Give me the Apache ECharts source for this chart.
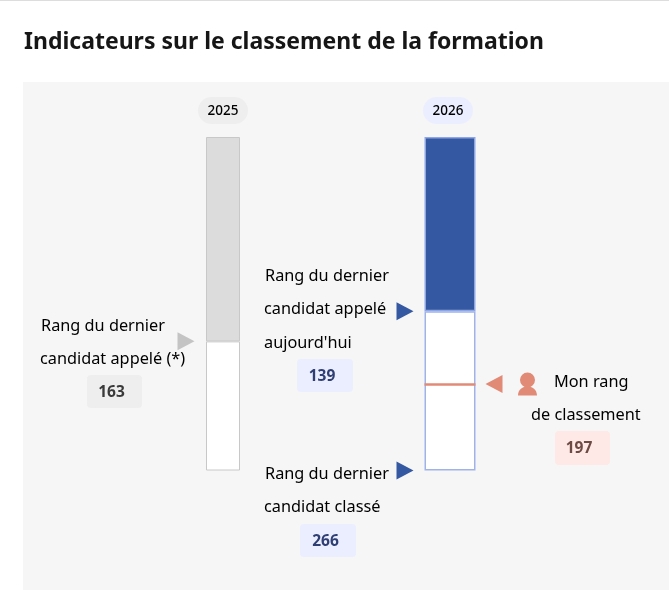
<!DOCTYPE html>
<html><head><meta charset="utf-8">
<style>html,body{margin:0;padding:0;background:#fff}#c{width:669px;height:592px}</style>
<script src="https://cdn.jsdelivr.net/npm/echarts@6/dist/echarts.min.js"></script>
</head><body><div id="c"></div>
<script>
const titleText = "Indicateurs sur le classement de la formation";
const years = ["2025", "2026"];
const maxRank = 266;
const lastCalled2025 = 163;
const lastCalledToday = 139;
const lastRanked = 266;
const myRank = 197;
const FONT = "'Noto Sans'";
const INK = "#000";

function tri(xi, yi, rank, offset, color, rotate) {
  return {type:'scatter',xAxisIndex:xi,yAxisIndex:yi,data:[[0,rank]],symbol:'triangle',symbolSize:[18,17],
    symbolRotate:rotate,symbolOffset:[offset,0],itemStyle:{color:color,opacity:1},silent:true,z:5,clip:false};
}
function txt(s,x,y,o){return Object.assign({type:'text',x:x,y:y,z:10,style:Object.assign({text:s,font:"400 16.3px "+FONT,fill:INK,textAlign:'left',textVerticalAlign:'middle'},o||{})});}
function pill(x,y,w,h,r,fill,label,color,font,shift){
  return [{type:'rect',x:x,y:y,z:8,shape:{width:w,height:h,r:r},style:{fill:fill}},
    {type:'text',x:x+w/2+(shift||0),y:y+h/2+1,z:9,style:{text:label,font:font,fill:color,textAlign:'center',textVerticalAlign:'middle'}}];
}
const YEARF = "500 13.5px "+FONT, VALF = "700 15.5px "+FONT;

const option = {
  animation:false,
  grid:[{left:206,width:34,top:137,height:333.5},{left:424.5,width:51,top:137,height:333.5}],
  xAxis:[{type:'category',gridIndex:0,data:[years[0]],show:false},{type:'category',gridIndex:1,data:[years[1]],show:false}],
  yAxis:[{type:'value',gridIndex:0,min:0,max:maxRank,inverse:true,show:false},{type:'value',gridIndex:1,min:0,max:maxRank,inverse:true,show:false}],
  series:[
    {type:'bar',xAxisIndex:0,yAxisIndex:0,stack:'a',barWidth:'100%',data:[lastCalled2025],itemStyle:{color:'#dcdcdc',borderColor:'#c8c8c8',borderWidth:1},silent:true},
    {type:'bar',xAxisIndex:0,yAxisIndex:0,stack:'a',barWidth:'100%',data:[maxRank-lastCalled2025],itemStyle:{color:'#fff',borderColor:'#c8c8c8',borderWidth:1},silent:true},
    {type:'bar',xAxisIndex:1,yAxisIndex:1,stack:'b',barWidth:'100%',data:[lastCalledToday],itemStyle:{color:'#3558a2',borderColor:'#8ea6e6',borderWidth:1.5},silent:true},
    {type:'bar',xAxisIndex:1,yAxisIndex:1,stack:'b',barWidth:'100%',data:[lastRanked-lastCalledToday],itemStyle:{color:'#fff',borderColor:'#9fb3ea',borderWidth:1.5},silent:true,
      markLine:{silent:true,symbol:'none',label:{show:false},lineStyle:{color:'#e18a76',width:2.5,type:'solid',opacity:1},data:[{yAxis:myRank}]}},
    tri(0,0,lastCalled2025,-37,'#c4c4c4',-90),
    tri(1,1,lastCalledToday,-45,'#3558a2',-90),
    tri(1,1,lastRanked,-45,'#3558a2',-90),
    tri(1,1,myRank,44,'#e18a76',90),
    {type:'scatter',xAxisIndex:1,yAxisIndex:1,data:[[0,myRank]],silent:true,z:6,clip:false,
     symbol:'path://M9.5 0a7.5 7.5 0 1 1 0 15a7.5 7.5 0 1 1 0-15Z M0 23C0 11 19 11 19 23Z',symbolSize:[19,23],symbolOffset:[77.5,0],symbolKeepAspect:false,itemStyle:{color:'#e18a76',opacity:1}}
  ],
  graphic:[
    {type:'rect',x:0,y:0,z:-2,shape:{width:669,height:1},style:{fill:'#dddddd'}},
    {type:'rect',x:23,y:82,z:-2,shape:{width:646,height:508},style:{fill:'#f6f6f6'}},
    txt(titleText,24,42,{font:"700 23px "+FONT,fill:'#161616'}),
    ...pill(198,97,50,27,13.5,'#eeeeee',years[0],INK,YEARF),
    ...pill(423,97,50,27,13.5,'#ebeeff',years[1],INK,YEARF),
    txt("Rang du dernier",41,326),
    txt("candidat appelé (*)",40,359),
    ...pill(87,375,55,33,4,'#eeeeee',String(lastCalled2025),'#3a3a3a',VALF,-3),
    txt("Rang du dernier",265,276),
    txt("candidat appelé",264,309),
    txt("aujourd'hui",264,343),
    ...pill(297,359,56,33,4,'#ebeeff',String(lastCalledToday),'#2f3f73',VALF,-3),
    txt("Rang du dernier",265,474),
    txt("candidat classé",264,507),
    ...pill(300,524,56,33,4,'#ebeeff',String(lastRanked),'#2f3f73',VALF,-2.5),
    txt("Mon rang",554,382),
    txt("de classement",531,415),
    ...pill(555,431,55,34,4,'#fee9e6',String(myRank),'#6e4a44',VALF,-3.5)
  ]
};
echarts.init(document.getElementById('c'),null,{renderer:'canvas'}).setOption(option);
</script></body></html>
